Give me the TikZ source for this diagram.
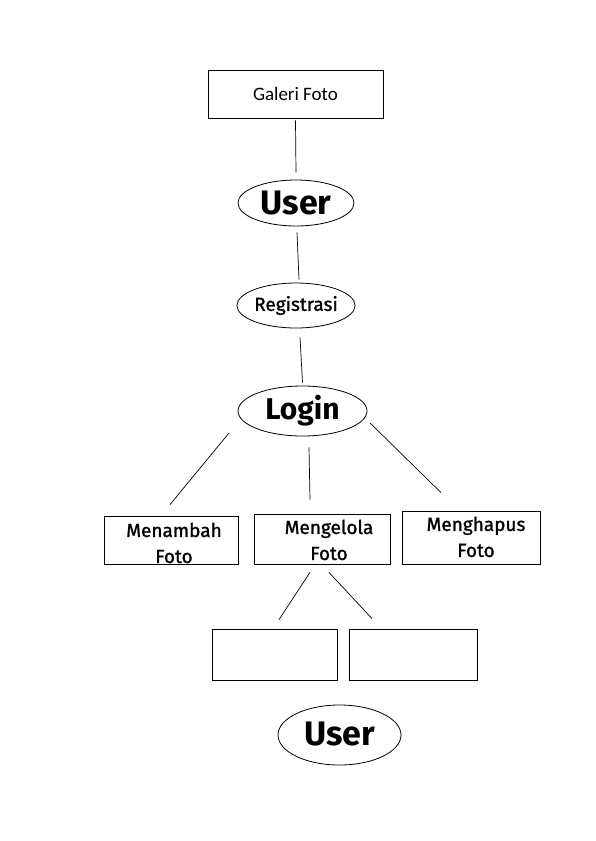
\documentclass[tikz,border=0pt]{standalone}
\usepackage{fontspec}
\setmainfont{Fira Sans}
\newfontfamily\medf[FakeBold=1.2]{Fira Sans}
\newfontfamily\calib{Carlito}
\usetikzlibrary{shapes.geometric}
\begin{document}
\begin{tikzpicture}[x=1pt,y=1pt,line width=0.8pt,
  boxn/.style={draw, rectangle, inner sep=0pt, align=center},
  ell/.style={draw, ellipse, inner sep=0pt},
  lbl/.style={font=\medf\fontsize{19}{26}\selectfont, align=center, anchor=north},
  conn/.style={draw, line width=0.7pt}]
\useasboundingbox (0,0) rectangle (595,-841);
% top
\node[boxn, minimum width=175pt, minimum height=48pt, font=\calib\fontsize{19}{21}\selectfont] (galeri) at (295.5,-94) {Galeri Foto};
\node[ell, minimum width=116pt, minimum height=46pt, font=\fontsize{34}{36}\selectfont\bfseries] (user1) at (296,-203) {User};
\node[ell, minimum width=116pt, minimum height=45pt, font=\medf\fontsize{19}{20}\selectfont] (reg) at (296,-305.5) {Registrasi};
\node[ell, minimum width=129pt, minimum height=50pt, font=\fontsize{30}{32}\selectfont\bfseries] (login) at (302.5,-411) {Login};
% second level
\node[boxn, minimum width=134pt, minimum height=48pt] (menambah) at (171,-540) {};
\node[lbl] at (174,-519) {Menambah\\Foto};
\node[boxn, minimum width=136pt, minimum height=50pt] (mengelola) at (322,-539) {};
\node[lbl] at (329,-516) {Mengelola\\Foto};
\node[boxn, minimum width=138pt, minimum height=53pt] (menghapus) at (471,-537.5) {};
\node[lbl] at (476,-513) {Menghapus\\Foto};
% third level
\node[boxn, minimum width=125pt, minimum height=51pt] (e1) at (274.5,-654.5) {};
\node[boxn, minimum width=128pt, minimum height=51pt] (e2) at (413,-654.5) {};
\node[ell, minimum width=123pt, minimum height=60pt, font=\fontsize{34}{36}\selectfont\bfseries] (user2) at (339.5,-735) {\raisebox{3pt}{User}};
% connectors
\draw[conn] ([yshift=-2pt]galeri.south) -- ([yshift=7pt]user1.north);
\draw[conn] ([shift={(1,-6)}]user1.south) -- ([shift={(3,3)}]reg.north);
\draw[conn] ([shift={(4,-9)}]reg.south) -- ([shift={(0,3)}]login.north);
\draw[conn] ([shift={(-73.5,-22)}]login.center) -- ([shift={(-1,11)}]menambah.north);
\draw[conn] ([shift={(6.5,-11)}]login.south) -- ([shift={(-12,14)}]mengelola.north);
\draw[conn] ([shift={(67.5,-12)}]login.center) -- ([shift={(-30,18)}]menghapus.north);
\draw[conn] ([shift={(-12,-8)}]mengelola.south) -- ([shift={(4.5,9)}]e1.north);
\draw[conn] ([shift={(7,-8)}]mengelola.south) -- ([shift={(-41,10)}]e2.north);
\end{tikzpicture}
\end{document}
